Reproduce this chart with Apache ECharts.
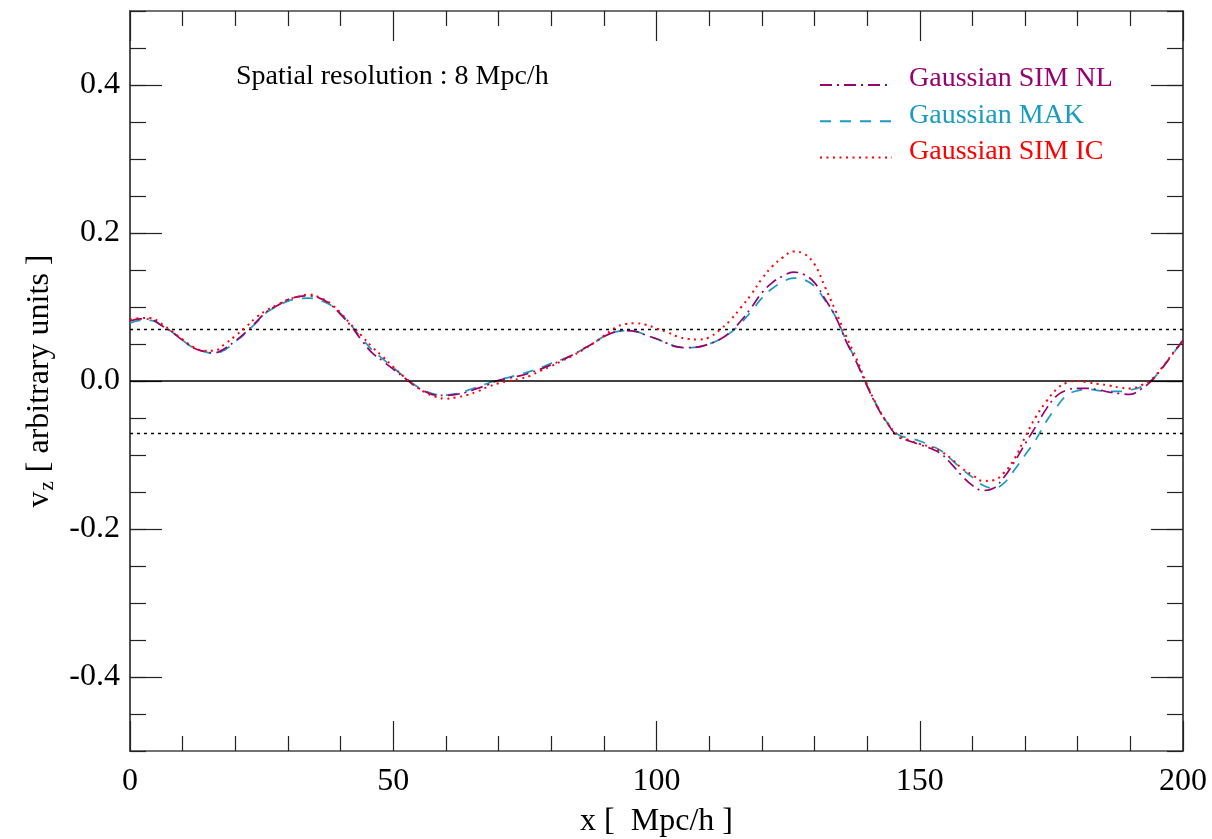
<!DOCTYPE html>
<html>
<head>
<meta charset="utf-8">
<script src="https://cdn.jsdelivr.net/npm/echarts@6/dist/echarts.min.js"></script>
<style>
html,body{margin:0;padding:0;background:#fff;}
#chart{width:1212px;height:839px;}
</style>
</head>
<body>
<div id="chart"></div>
<script>
// ---- data (x in Mpc/h, values of v_z in arbitrary units) ----
const xValues = [];
for (let i = 0; i <= 200; i += 2) xValues.push(i);

const simNL = [
  0.081, 0.084, 0.083, 0.075, 0.066, 0.055, 0.045, 0.040, 0.038, 0.044,
  0.054, 0.066, 0.080, 0.094, 0.102, 0.110, 0.114, 0.115, 0.112, 0.104,
  0.090, 0.074, 0.055, 0.038, 0.027, 0.016, 0.005, -0.006, -0.014, -0.019,
  -0.0195, -0.018, -0.015, -0.010, -0.005, 0.001, 0.004, 0.007, 0.011, 0.016,
  0.022, 0.028, 0.035, 0.043, 0.051, 0.060, 0.066, 0.068, 0.067, 0.062,
  0.057, 0.051, 0.046, 0.045, 0.046, 0.050, 0.056, 0.066, 0.081, 0.099,
  0.119, 0.133, 0.142, 0.147, 0.144, 0.133, 0.111, 0.087, 0.054, 0.025,
  -0.007, -0.036, -0.059, -0.076, -0.081, -0.086, -0.091, -0.098, -0.112, -0.128,
  -0.141, -0.148, -0.145, -0.130, -0.109, -0.085, -0.062, -0.038, -0.020, -0.012,
  -0.010, -0.010, -0.012, -0.015, -0.017, -0.018, -0.011, 0.000, 0.017, 0.036,
  0.055
];

const mak = [
  0.078, 0.082, 0.082, 0.075, 0.066, 0.055, 0.045, 0.040, 0.037, 0.042,
  0.053, 0.065, 0.079, 0.093, 0.101, 0.108, 0.111, 0.112, 0.109, 0.103,
  0.091, 0.075, 0.058, 0.042, 0.030, 0.018, 0.006, -0.005, -0.013, -0.018,
  -0.019, -0.017, -0.013, -0.008, -0.003, 0.002, 0.005, 0.009, 0.013, 0.018,
  0.024, 0.029, 0.035, 0.043, 0.051, 0.060, 0.066, 0.068, 0.067, 0.062,
  0.057, 0.051, 0.046, 0.045, 0.046, 0.050, 0.056, 0.065, 0.078, 0.094,
  0.112, 0.125, 0.134, 0.139, 0.137, 0.128, 0.109, 0.087, 0.055, 0.026,
  -0.006, -0.035, -0.058, -0.073, -0.077, -0.081, -0.087, -0.094, -0.106, -0.119,
  -0.130, -0.141, -0.145, -0.138, -0.120, -0.100, -0.080, -0.055, -0.035, -0.019,
  -0.013, -0.011, -0.013, -0.014, -0.014, -0.012, -0.008, 0.001, 0.017, 0.036,
  0.055
];

const simIC = [
  0.083, 0.085, 0.085, 0.077, 0.067, 0.056, 0.046, 0.041, 0.041, 0.050,
  0.061, 0.073, 0.086, 0.096, 0.103, 0.110, 0.114, 0.117, 0.113, 0.105,
  0.092, 0.076, 0.061, 0.046, 0.033, 0.019, 0.006, -0.006, -0.015, -0.021,
  -0.024, -0.022, -0.019, -0.014, -0.008, -0.003, 0.000, 0.003, 0.007, 0.014,
  0.020, 0.027, 0.034, 0.042, 0.051, 0.061, 0.071, 0.077, 0.078, 0.076,
  0.071, 0.066, 0.060, 0.057, 0.056, 0.059, 0.069, 0.082, 0.099, 0.117,
  0.138, 0.155, 0.167, 0.175, 0.172, 0.158, 0.127, 0.095, 0.061, 0.030,
  -0.005, -0.035, -0.058, -0.074, -0.080, -0.085, -0.089, -0.095, -0.105, -0.118,
  -0.127, -0.135, -0.134, -0.124, -0.105, -0.076, -0.049, -0.028, -0.011, -0.002,
  0.000, -0.002, -0.004, -0.006, -0.009, -0.010, -0.006, 0.002, 0.018, 0.037,
  0.055
];

const seriesNames = ['Gaussian SIM NL', 'Gaussian MAK', 'Gaussian SIM IC'];
const zeroLine = 0;
const dottedLevels = [0.074, -0.074];
const yMajorTicks = [-0.4, -0.2, 0.0, 0.2, 0.4];
const xTicks = [0, 50, 100, 150, 200];

// ---- styles ----
const FONT = '"Liberation Serif", "DejaVu Serif", serif';
const colNL = '#990070';
const colMAK = '#1a9cc0';
const colIC = '#ff0000';
const frameColor = '#444';
const tickColor = '#222';

function pairs(ys) { return xValues.map((x, i) => [x, ys[i]]); }

const chart = echarts.init(document.getElementById('chart'), null, {renderer: 'canvas'});

const baseX = {
  type: 'value', min: 0, max: 200, interval: 50, offset: 0,
  axisLine: {show: true, onZero: false, lineStyle: {color: frameColor, width: 1.5}},
  axisTick: {show: true, inside: true, length: 30, lineStyle: {color: tickColor, width: 1.2}},
  minorTick: {show: true, splitNumber: 5, length: 15, lineStyle: {color: tickColor, width: 1.2}},
  splitLine: {show: false}, minorSplitLine: {show: false}
};

function yAxisDef(pos, major) {
  const ax = {
    type: 'value', min: -0.5, max: 0.5, position: pos, offset: 0,
    axisLine: {show: true, onZero: false, lineStyle: {color: frameColor, width: 1.5}},
    splitLine: {show: false},
    axisLabel: {show: false}
  };
  if (major) {
    ax.axisTick = {show: true, inside: true, length: 32, customValues: yMajorTicks,
      lineStyle: {color: tickColor, width: 1.2}};
    ax.axisLabel = {show: false, customValues: yMajorTicks};
  } else {
    ax.interval = 0.05;
    ax.axisTick = {show: true, inside: true, length: 16, lineStyle: {color: tickColor, width: 1.2}};
  }
  return ax;
}

const yLeftMajor = yAxisDef('left', true);
yLeftMajor.axisLabel = {show: true, margin: 10, customValues: yMajorTicks,
  fontFamily: FONT, fontSize: 32, color: '#000',
  formatter: v => (Math.abs(v) < 1e-9 ? '0.0' : v.toFixed(1))};
yLeftMajor.name = '{a|v}{b|z}{a| [ arbitrary units ]}';
yLeftMajor.nameLocation = 'middle';
yLeftMajor.nameRotate = 90;
yLeftMajor.nameGap = 68;
yLeftMajor.nameTextStyle = {fontFamily: FONT, fontSize: 32, color: '#000',
  rich: {a: {fontFamily: FONT, fontSize: 32, color: '#000'},
         b: {fontFamily: FONT, fontSize: 21, color: '#000', padding: [16, 1, 0, 1]}}};

const option = {
  backgroundColor: '#fff',
  animation: false,
  title: {
    text: 'Spatial resolution : 8 Mpc/h',
    left: 231, top: 58,
    textStyle: {fontFamily: FONT, fontSize: 28, fontWeight: 'normal', color: '#000'}
  },
  legend: {
    orient: 'vertical', left: 814, top: 60,
    itemWidth: 72, itemHeight: 12, itemGap: 8.2,
    itemStyle: {opacity: 0},
    formatter: name => '{t|' + name + '}',
    textStyle: {fontFamily: FONT, fontSize: 28, padding: [0, 0, 0, 12],
      rich: {t: {fontFamily: FONT, fontSize: 28, padding: [0, 0, 12, 0]}}},
    data: [
      {name: seriesNames[0], textStyle: {color: colNL}},
      {name: seriesNames[1], textStyle: {color: colMAK}},
      {name: seriesNames[2], textStyle: {color: colIC}}
    ]
  },
  grid: {left: 130, right: 29, top: 11, bottom: 88, containLabel: false, outerBoundsMode: 'none'},
  xAxis: [
    Object.assign({}, baseX, {
      position: 'bottom',
      axisLabel: {show: true, margin: 15, fontFamily: FONT, fontSize: 32, color: '#000',
        customValues: xTicks},
      name: 'x [  Mpc/h ]', nameLocation: 'middle', nameGap: 55,
      nameTextStyle: {fontFamily: FONT, fontSize: 32, color: '#000'}
    }),
    Object.assign({}, baseX, {position: 'top', axisLabel: {show: false}})
  ],
  yAxis: [yLeftMajor, yAxisDef('left', false), yAxisDef('right', true), yAxisDef('right', false)],
  series: [
    {
      name: seriesNames[0], type: 'line', data: pairs(simNL), smooth: 0.4,
      showSymbol: false, symbol: 'none', z: 4,
      lineStyle: {color: colNL, width: 1.7, type: [12, 5, 2, 5]}, itemStyle: {color: colNL},
      markLine: {
        silent: true, symbol: 'none', animation: false, label: {show: false},
        data: [
          {yAxis: zeroLine, lineStyle: {color: '#000', width: 1.5, type: 'solid'}},
          {yAxis: dottedLevels[0], lineStyle: {color: '#000', width: 1.3, type: [3, 4]}},
          {yAxis: dottedLevels[1], lineStyle: {color: '#000', width: 1.3, type: [3, 4]}}
        ]
      }
    },
    {
      name: seriesNames[1], type: 'line', data: pairs(mak), smooth: 0.4,
      showSymbol: false, symbol: 'none', z: 3,
      lineStyle: {color: colMAK, width: 1.7, type: [11, 9]}, itemStyle: {color: colMAK}
    },
    {
      name: seriesNames[2], type: 'line', data: pairs(simIC), smooth: 0.4,
      showSymbol: false, symbol: 'none', z: 5,
      lineStyle: {color: colIC, width: 2, type: [2, 4.5]}, itemStyle: {color: colIC}
    }
  ]
};

chart.setOption(option);
</script>
</body>
</html>
